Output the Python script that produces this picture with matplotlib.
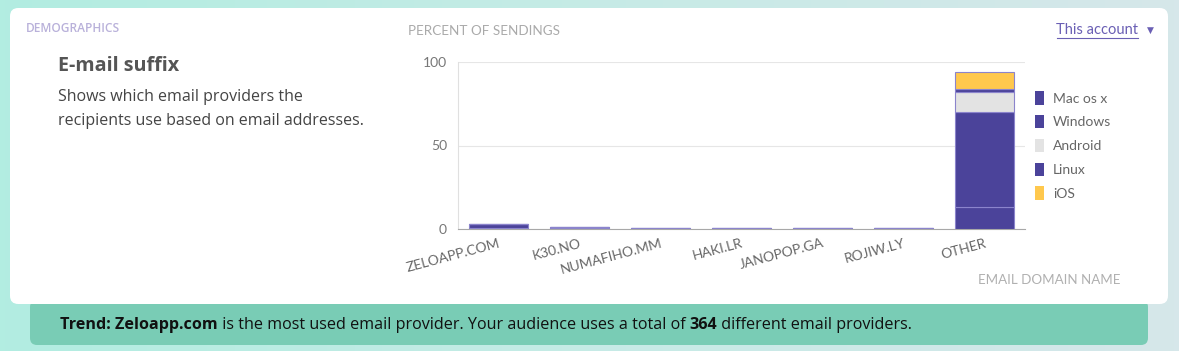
import numpy as np
import matplotlib.pyplot as plt
from matplotlib.patches import FancyBboxPatch
from matplotlib.colors import LinearSegmentedColormap

domains = ['ZELOAPP.COM', 'K30.NO', 'NUMAFIHO.MM', 'HAKI.LR', 'JANOPOP.GA', 'ROJIW.LY', 'OTHER']
mac = [0.6, 0.3, 0.1, 0.1, 0.1, 0.1, 13.2]
windows = [2.2, 1.0, 0.4, 0.3, 0.3, 0.3, 56.8]
android = [0, 0, 0, 0, 0, 0, 12.0]
linux = [0, 0, 0, 0, 0, 0, 1.8]
ios = [0, 0, 0, 0, 0, 0, 10.2]
series = ['Mac os x', 'Windows', 'Android', 'Linux', 'iOS']
colors = ['#4b439a', '#4b439a', '#e3e3e3', '#4b439a', '#ffc84d']

W, H = 1179, 351
def fx(x): return x / W
def fy(y): return 1 - y / H

plt.rcParams['font.family'] = ['Lato', 'DejaVu Sans']
fig = plt.figure(figsize=(W / 100, H / 100), dpi=100)

# background gradient
bg = fig.add_axes([0, 0, 1, 1])
bg.set_axis_off()
grad = np.linspace(0, 1, 256).reshape(1, -1)
cm = LinearSegmentedColormap.from_list('bg', ['#b2ede1', '#c6ebe6', '#d6e7ea'])
bg.imshow(grad, aspect='auto', cmap=cm, extent=[0, 1, 0, 1])
bg.set_xlim(0, 1)
bg.set_ylim(0, 1)

# trend strip and white card
bg.add_patch(FancyBboxPatch((fx(30), fy(345)), fx(1148) - fx(30), fy(300) - fy(345),
                            boxstyle='round,pad=0,rounding_size=0.006', fc='#79ccb5', ec='none',
                            transform=bg.transAxes, mutation_aspect=W / H))
bg.add_patch(FancyBboxPatch((fx(10), fy(304)), fx(1168) - fx(10), fy(8) - fy(304),
                            boxstyle='round,pad=0,rounding_size=0.007', fc='white', ec='none',
                            transform=bg.transAxes, mutation_aspect=W / H))

fig.text(fx(26), fy(29), 'DEMOGRAPHICS', fontsize=8.6, color='#b9b1da', va='center',
         family=['Open Sans', 'DejaVu Sans'], weight='semibold')
fig.text(fx(58), fy(66), 'E-mail suffix', fontsize=14.2, color='#555555', va='center',
         family=['Open Sans', 'DejaVu Sans'], weight='bold')
fig.text(fx(58), fy(97), 'Shows which email providers the', fontsize=11.5, color='#444444',
         va='center', family=['Open Sans', 'DejaVu Sans'])
fig.text(fx(58), fy(121), 'recipients use based on email addresses.', fontsize=11.5, color='#444444',
         va='center', family=['Open Sans', 'DejaVu Sans'])
fig.text(fx(408), fy(31), 'PERCENT OF SENDINGS', fontsize=9.7, color='#aaaaaa', va='center')
fig.text(fx(1138), fy(30), 'This account', fontsize=10.5, color='#6a5fb4', va='center', ha='right')
bg.plot([fx(1057), fx(1138)], [fy(38), fy(38)], color='#6a5fb4', lw=0.8)
fig.text(fx(1150), fy(30), '\u25BC', fontsize=6.5, color='#6a5fb4', va='center', ha='center',
         family=['DejaVu Sans'])
fig.text(fx(1120), fy(280), 'EMAIL DOMAIN NAME', fontsize=9.6, color='#b0b0b0', va='center', ha='right')

# trend sentence
fs = 11.6
t1 = fig.text(fx(60), fy(333), 'Trend: Zeloapp.com', fontsize=fs, color='#111111', weight='bold',
              va='bottom', family=['Open Sans', 'DejaVu Sans'])
t2 = bg.annotate(' is the most used email provider. Your audience uses a total of ', xy=(1, 0),
                 xycoords=t1, fontsize=fs, color='#111111', va='bottom',
                 family=['Open Sans', 'DejaVu Sans'])
t3 = bg.annotate('364', xy=(1, 0), xycoords=t2, fontsize=fs, color='#111111', weight='bold',
                 va='bottom', family=['Open Sans', 'DejaVu Sans'])
bg.annotate(' different email providers.', xy=(1, 0), xycoords=t3, fontsize=fs, color='#111111',
            va='bottom', family=['Open Sans', 'DejaVu Sans'])

# chart
ax = fig.add_axes([fx(458), fy(229), fx(1025) - fx(458), fy(62) - fy(229)])
x = np.arange(len(domains))
bottom = np.zeros(len(domains))
for name, vals, c in zip(series, [mac, windows, android, linux, ios], colors):
    ax.bar(x, vals, width=0.72, bottom=bottom, color=c, edgecolor='#8b84cc', linewidth=0.8,
           label=name, zorder=3)
    bottom += np.array(vals)

ax.set_xlim(-0.5, len(domains) - 0.5)
ax.set_ylim(0, 100)
ax.set_yticks([0, 50, 100])
ax.yaxis.grid(True, color='#e6e6e6', lw=0.8, zorder=0)
for s in ['top', 'right']:
    ax.spines[s].set_visible(False)
ax.spines['left'].set_color('#e0e0e0')
ax.spines['bottom'].set_color('#a8a8a8')
ax.tick_params(axis='y', length=0, pad=8, labelsize=10, labelcolor='#777777')
ax.tick_params(axis='x', length=0, pad=6, labelsize=10, labelcolor='#666666')
ax.set_xticks(x)
ax.set_xticklabels(domains, rotation=15, ha='right', rotation_mode='anchor')

leg = ax.legend(loc='upper left', bbox_to_anchor=(0.995, 0.90), frameon=False, fontsize=10,
                handlelength=0.7, handleheight=1.1, handletextpad=0.6, labelspacing=0.75,
                labelcolor='#666666')
for h in leg.legend_handles:
    h.set_edgecolor('none')

fig.savefig('out.png', dpi=100)
